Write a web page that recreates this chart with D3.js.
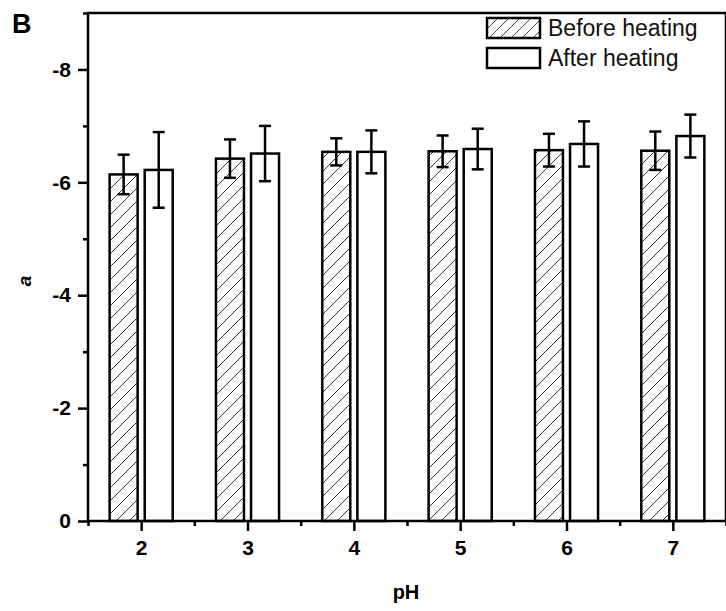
<!DOCTYPE html>
<html>
<head>
<meta charset="utf-8">
<script src="https://cdn.jsdelivr.net/npm/d3@7"></script>
<style>
  body { margin: 0; background: #fff; }
  svg { display: block; font-family: "Liberation Sans", Arial, sans-serif; }
</style>
</head>
<body>
<div id="chart"></div>
<script>
const phLevels = [2, 3, 4, 5, 6, 7]
const beforeValues = [-6.14, -6.42, -6.54, -6.55, -6.57, -6.56]
const beforeErrors = [0.35, 0.34, 0.24, 0.28, 0.29, 0.34]
const afterValues = [-6.22, -6.51, -6.54, -6.59, -6.68, -6.82]
const afterErrors = [0.67, 0.49, 0.38, 0.36, 0.40, 0.38]
const yTicks = [0, -2, -4, -6, -8]
const yMinorTicks = [-1, -3, -5, -7, -9]
const xMinorTicks = [1.5, 2.5, 3.5, 4.5, 5.5, 6.5, 7.5]
const legendLabels = ["Before heating", "After heating"]

const width = 726, height = 611
const plotLeft = 88, plotRight = 726, plotTop = 13, plotBottom = 521

const svg = d3.select("#chart").append("svg")
  .attr("width", width)
  .attr("height", height)

// diagonal hatch
const defs = svg.append("defs")
defs.append("pattern")
  .attr("id", "hatch")
  .attr("patternUnits", "userSpaceOnUse")
  .attr("width", 13).attr("height", 13)
  .append("path")
  .attr("d", "M0,13 L13,0 M-3,3 L3,-3 M10,16 L16,10")
  .attr("stroke", "#333")
  .attr("stroke-width", 1)
defs.append("pattern")
  .attr("id", "hatchLegend")
  .attr("patternUnits", "userSpaceOnUse")
  .attr("width", 11).attr("height", 11)
  .append("path")
  .attr("d", "M0,11 L11,0 M-3,3 L3,-3 M8,14 L14,8")
  .attr("stroke", "#444")
  .attr("stroke-width", 1)

const x = d3.scaleLinear().domain([1.5, 7.5]).range([plotLeft, plotRight])
const y = d3.scaleLinear().domain([0, -9]).range([plotBottom, plotTop])

const step = x(3) - x(2)
const barW = 28
const offset = step * 0.165

const groups = [
  { values: beforeValues, errors: beforeErrors, fill: "url(#hatch)", dx: -offset },
  { values: afterValues, errors: afterErrors, fill: "#fff", dx: offset }
]

groups.forEach(g => {
  const rows = phLevels.map((p, i) => ({ p: p, v: g.values[i], e: g.errors[i] }))
  svg.append("g").selectAll("rect")
    .data(rows)
    .enter().append("rect")
    .attr("x", d => x(d.p) + g.dx - barW / 2)
    .attr("y", d => y(d.v))
    .attr("width", barW)
    .attr("height", d => y(0) - y(d.v))
    .attr("fill", g.fill)
    .attr("stroke", "#000")
    .attr("stroke-width", 2.5)

  const err = svg.append("g").attr("stroke", "#000").attr("stroke-width", 2.5)
    .selectAll("g").data(rows).enter().append("g")
  err.append("line")
    .attr("x1", d => x(d.p) + g.dx).attr("x2", d => x(d.p) + g.dx)
    .attr("y1", d => y(d.v - d.e)).attr("y2", d => y(d.v + d.e))
  err.append("line")
    .attr("x1", d => x(d.p) + g.dx - 6).attr("x2", d => x(d.p) + g.dx + 6)
    .attr("y1", d => y(d.v - d.e)).attr("y2", d => y(d.v - d.e))
  err.append("line")
    .attr("x1", d => x(d.p) + g.dx - 6).attr("x2", d => x(d.p) + g.dx + 6)
    .attr("y1", d => y(d.v + d.e)).attr("y2", d => y(d.v + d.e))
})

// axes
svg.append("g")
  .attr("transform", `translate(${plotLeft},0)`)
  .call(d3.axisLeft(y).tickValues(yTicks).tickSize(10).tickPadding(7).tickFormat(d => String(d)))
svg.append("g")
  .attr("transform", `translate(${plotLeft},0)`)
  .call(d3.axisLeft(y).tickValues(yMinorTicks).tickSize(5).tickFormat(""))

svg.append("g")
  .attr("transform", `translate(0,${plotBottom})`)
  .call(d3.axisBottom(x).tickValues(phLevels).tickSize(10).tickPadding(9).tickFormat(d3.format("d")))
svg.append("g")
  .attr("transform", `translate(0,${plotBottom})`)
  .call(d3.axisBottom(x).tickValues(xMinorTicks).tickSize(5).tickFormat(""))

svg.selectAll(".domain").remove()
svg.selectAll(".tick line").attr("stroke", "#000").attr("stroke-width", 2.5)
svg.selectAll(".tick text")
  .attr("fill", "#000")
  .attr("font-size", 21)
  .attr("font-weight", "bold")
  .attr("font-family", "'Liberation Sans', Arial, sans-serif")

// frame
svg.append("rect")
  .attr("x", plotLeft).attr("y", plotTop)
  .attr("width", plotRight - plotLeft).attr("height", plotBottom - plotTop)
  .attr("fill", "none")
  .attr("stroke", "#000")
  .attr("stroke-width", 2.5)

// titles
svg.append("text")
  .attr("x", 12).attr("y", 33)
  .style("font-size", "27px").style("font-weight", "bold")
  .text("B")

svg.append("text")
  .attr("transform", "translate(31,281) rotate(-90)")
  .attr("text-anchor", "middle")
  .style("font-size", "19px").style("font-weight", "bold").style("font-style", "italic")
  .text("a")

svg.append("text")
  .attr("x", 406).attr("y", 599)
  .attr("text-anchor", "middle")
  .style("font-size", "20px").style("font-weight", "bold")
  .text("pH")

// legend
const legend = svg.append("g").selectAll("g")
  .data(legendLabels)
  .enter().append("g")
  .attr("transform", (d, i) => `translate(487,${18 + i * 30})`)
legend.append("rect")
  .attr("width", 53).attr("height", 20)
  .attr("fill", (d, i) => i === 0 ? "url(#hatchLegend)" : "#fff")
  .attr("stroke", "#000")
  .attr("stroke-width", 2.5)
legend.append("text")
  .attr("x", 61).attr("y", 18)
  .style("font-size", "23px")
  .attr("fill", "#111")
  .text(d => d)
</script>
</body>
</html>
